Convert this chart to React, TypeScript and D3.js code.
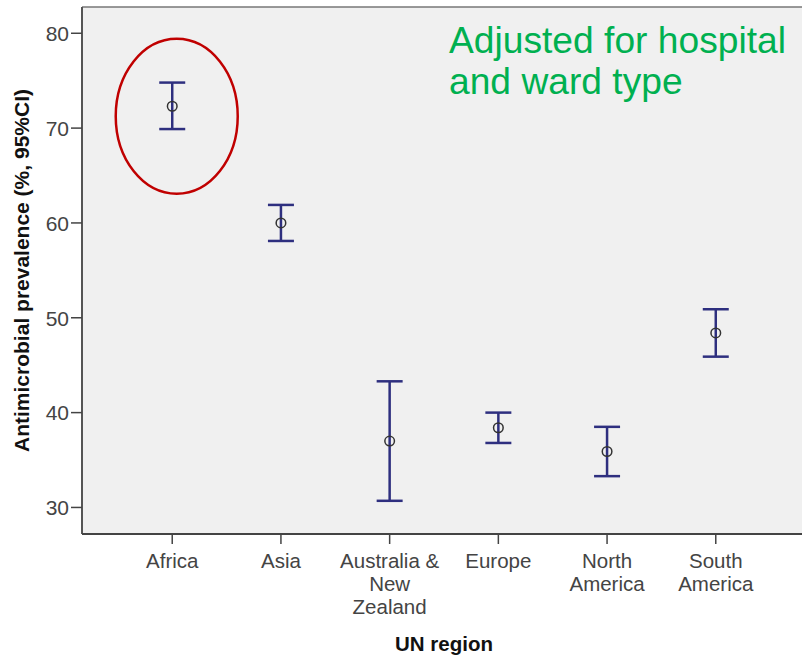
import React from "react";
import * as d3 from "d3";

const regions = ["Africa", "Asia", "Australia & New Zealand", "Europe", "North America", "South America"];
const regionLabelLines = [["Africa"], ["Asia"], ["Australia &", "New", "Zealand"], ["Europe"], ["North", "America"], ["South", "America"]];
const prevalenceMean = [72.3, 60.0, 37.0, 38.4, 35.9, 48.4];
const ciLower = [69.9, 58.1, 30.7, 36.8, 33.3, 45.9];
const ciUpper = [74.8, 61.9, 43.3, 40.0, 38.5, 50.9];
const yTicks = [30, 40, 50, 60, 70, 80];
const noteLines = ["Adjusted for hospital", "and ward type"];
const highlighted = "Africa";

const W = 802;
const H = 658;
const plot = { left: 82, top: 7, right: 806, bottom: 534 };
const FONT = "'Liberation Sans', Arial, Helvetica, sans-serif";

export default function App() {
  const x = d3.scalePoint<string>().domain(regions).range([plot.left, plot.right]).padding(0.83);
  const y = d3.scaleLinear().domain([27.2, 82.77]).range([plot.bottom, plot.top]);

  const barColor = "#2e2f7f";
  const capHalf = 13;
  const hi = regions.indexOf(highlighted);

  return (
    <svg width={W} height={H} style={{ position: "absolute", left: 0, top: 0, background: "#fff" }} fontFamily={FONT}>
      {/* plot area */}
      <rect x={plot.left} y={plot.top} width={W - plot.left} height={plot.bottom - plot.top} fill="#f0f0f0" />
      <line x1={plot.left} x2={W} y1={plot.top} y2={plot.top} stroke="#777" strokeWidth={1.5} />
      <line x1={plot.left} x2={plot.left} y1={plot.top} y2={plot.bottom} stroke="#555" strokeWidth={2} />
      <line x1={plot.left} x2={W} y1={plot.bottom} y2={plot.bottom} stroke="#444" strokeWidth={2.2} />

      {/* y axis */}
      {yTicks.map((t) => (
        <g key={t}>
          <line x1={plot.left - 11} x2={plot.left} y1={y(t)} y2={y(t)} stroke="#444" strokeWidth={1.5} />
          <text x={plot.left - 13} y={y(t)} dy="0.37em" textAnchor="end" fontSize={21} fill="#444">
            {t}
          </text>
        </g>
      ))}
      <text
        transform={`translate(29, ${(88 + 453) / 2}) rotate(-90)`}
        textAnchor="middle"
        fontSize={21}
        fontWeight="bold"
        fill="#111"
      >
        Antimicrobial prevalence (%, 95%CI)
      </text>

      {/* x axis */}
      {regions.map((r, i) => (
        <g key={r}>
          <line x1={x(r)} x2={x(r)} y1={plot.bottom} y2={plot.bottom + 10} stroke="#444" strokeWidth={1.5} />
          {regionLabelLines[i].map((ln, j) => (
            <text key={j} x={x(r)} y={568 + j * 23} textAnchor="middle" fontSize={20.5} fill="#444">
              {ln}
            </text>
          ))}
        </g>
      ))}
      <text x={444} y={651} textAnchor="middle" fontSize={20.5} fontWeight="bold" fill="#111">
        UN region
      </text>

      {/* error bars */}
      {regions.map((r, i) => {
        const cx = x(r) as number;
        return (
          <g key={r}>
            <line x1={cx} x2={cx} y1={y(ciLower[i])} y2={y(ciUpper[i])} stroke={barColor} strokeWidth={2.5} />
            <line x1={cx - capHalf} x2={cx + capHalf} y1={y(ciUpper[i])} y2={y(ciUpper[i])} stroke={barColor} strokeWidth={2.5} />
            <line x1={cx - capHalf} x2={cx + capHalf} y1={y(ciLower[i])} y2={y(ciLower[i])} stroke={barColor} strokeWidth={2.5} />
            <circle cx={cx} cy={y(prevalenceMean[i])} r={4.8} fill="none" stroke="#333" strokeWidth={1.5} />
          </g>
        );
      })}

      {/* highlight ring */}
      <ellipse
        cx={(x(highlighted) as number) + 4.5}
        cy={y(prevalenceMean[hi]) + 10}
        rx={61}
        ry={77.5}
        fill="none"
        stroke="#c00000"
        strokeWidth={2.5}
      />

      {/* note */}
      {noteLines.map((ln, j) => (
        <text key={j} x={449} y={53 + j * 41} fontSize={37.2} fill="#00b050">
          {ln}
        </text>
      ))}
    </svg>
  );
}
